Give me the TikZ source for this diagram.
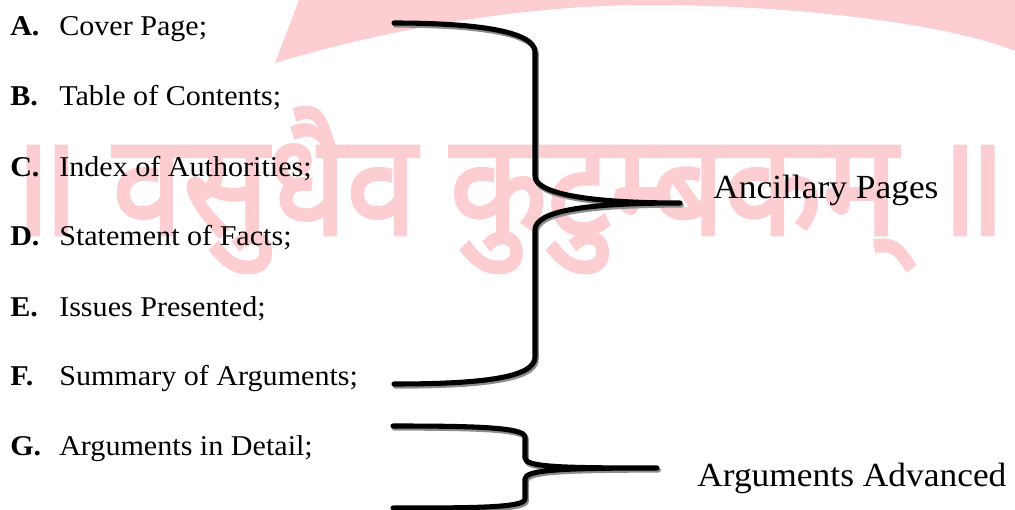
\documentclass[tikz,border=0pt]{standalone}
\usepackage{fontspec}
\setmainfont{Liberation Serif}[FakeStretch=1.05]
\newfontfamily\deva[Script=Devanagari,FakeBold=2.5]{Noto Sans}
\definecolor{wm}{RGB}{252,206,210}
\definecolor{shadowgray}{RGB}{140,140,140}
\begin{document}
\begin{tikzpicture}[x=0.75pt,y=-0.75pt,
  itemtext/.style={anchor=base west, inner sep=0pt, font=\fontsize{21.5}{24}\selectfont},
  itemlbl/.style={anchor=base west, inner sep=0pt, font=\fontsize{21.5}{24}\selectfont\bfseries},
  grouptext/.style={anchor=base west, inner sep=0pt, font=\fontsize{25.3}{28}\selectfont},
  bracepath/.style={line width=3.8pt, line cap=round, line join=round, draw=black},
  braceshadow/.style={line width=3.8pt, line cap=round, line join=round, draw=shadowgray, xshift=1pt, yshift=-1.6pt},
  wmtext/.style={anchor=center, inner sep=0pt, text=wm, yscale=1.12, font=\deva\fontsize{95}{100}\selectfont}
]
\useasboundingbox (0,0) rectangle (1015,510);
% watermark
\fill[wm] (299,0) -- (275,63) .. controls (420,20) and (550,5) .. (650,5) .. controls (800,5) and (950,25) .. (1012,50) -- (1015,50) -- (1015,0) -- cycle;
\node[wmtext] (wmk) at (505,190) {॥ वसुधैव कुटुम्बकम् ॥};
% items
\node[itemlbl] (la) at (10,36) {A.};
\node[itemtext] (ta) at (59,36) {Cover Page;};
\node[itemlbl] (lb) at (10,106) {B.};
\node[itemtext] (tb) at (59,106) {Table of Contents;};
\node[itemlbl] (lc) at (10,176) {C.};
\node[itemtext] (tc) at (59,176) {Index of Authorities;};
\node[itemlbl] (ld) at (10,245) {D.};
\node[itemtext] (td) at (59,245) {Statement of Facts;};
\node[itemlbl] (le) at (10,316) {E.};
\node[itemtext] (te) at (59,316) {Issues Presented;};
\node[itemlbl] (lf) at (10,385) {F.};
\node[itemtext] (tf) at (59,385) {Summary of Arguments;};
\node[itemlbl] (lg) at (10,455) {G.};
\node[itemtext] (tg) at (59,455) {Arguments in Detail;};
\node[grouptext] (anc) at (713,198) {Ancillary Pages};
\node[grouptext] (adv) at (697,486) {Arguments Advanced};
% braces
\foreach \s in {braceshadow,bracepath}{
\draw[\s] (394,23) .. controls (480,23) and (535,32) .. (535,52) -- (535,176)
  .. controls (535,193) and (585,203) .. (680,203)
  .. controls (585,203) and (535,211) .. (535,230) -- (535,357)
  .. controls (535,378) and (480,384) .. (394,384);
\draw[\s] (393,426) .. controls (470,426) and (525,427) .. (525,437) -- (525,458)
  .. controls (525,467) and (560,468) .. (657,468)
  .. controls (560,468) and (525,470) .. (525,479) -- (525,499)
  .. controls (525,508) and (470,508) .. (393,508);
}
\end{tikzpicture}
\end{document}
